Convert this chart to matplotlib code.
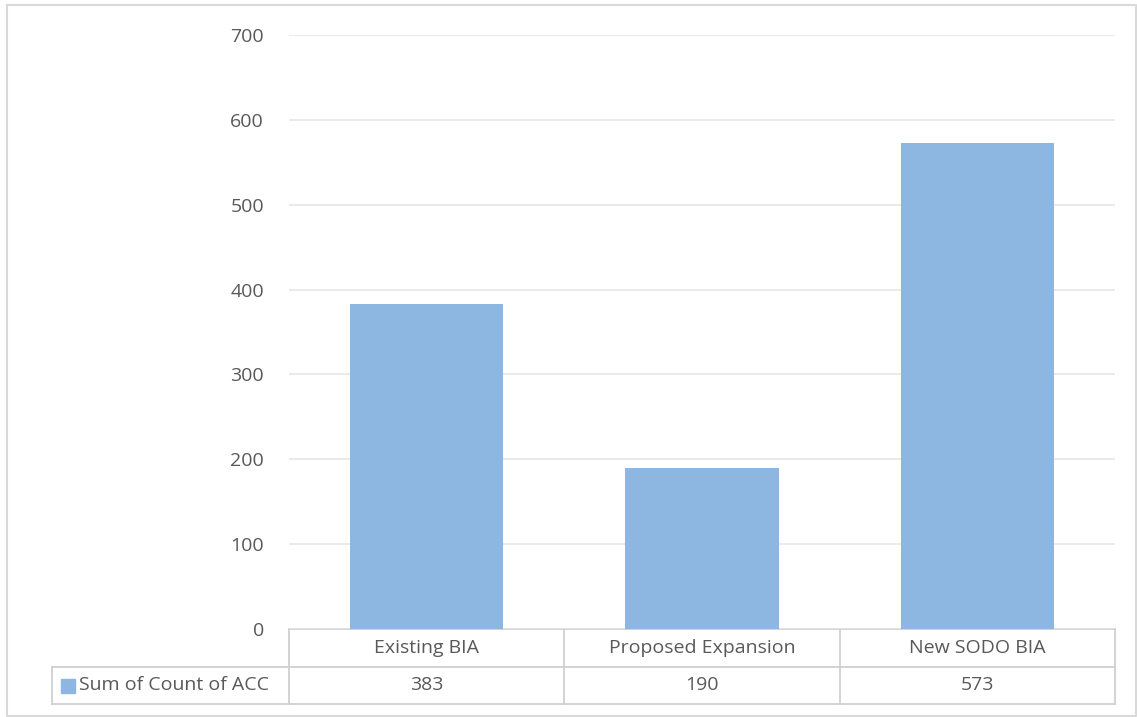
import matplotlib.pyplot as plt
from matplotlib.transforms import blended_transform_factory

categories = ["Existing BIA", "Proposed Expansion", "New SODO BIA"]
counts = [383, 190, 573]
series_name = "Sum of Count of ACC"
y_ticks = [0, 100, 200, 300, 400, 500, 600, 700]

W, H = 1137, 717
bar_color = "#8DB7E0"
text_color = "#595959"
grid_color = "#E6E6E6"
line_color = "#D0D0D0"
fs = 14

plt.rcParams["font.family"] = ["Open Sans", "DejaVu Sans"]

fig = plt.figure(figsize=(W / 100, H / 100), dpi=100)

# overlay in pixel coordinates for the frame and the data table
over = fig.add_axes([0, 0, 1, 1])
over.set_xlim(0, W)
over.set_ylim(H, 0)
over.axis("off")

# plot area
x0, x1, y_top, y_zero = 289, 1115, 35, 629
ax = fig.add_axes([x0 / W, 1 - y_zero / H, (x1 - x0) / W, (y_zero - y_top) / H])
ax.set_xlim(-0.5, len(categories) - 0.5)
ax.set_ylim(0, 700)
ax.bar(range(len(categories)), counts, width=0.556, color=bar_color, zorder=2)
ax.set_yticks(y_ticks)
ax.yaxis.grid(True, color=grid_color, linewidth=1.2, zorder=0)
ax.set_xticks([])
ax.tick_params(axis="y", length=0, pad=18, labelsize=fs, labelcolor=text_color)
for s in ax.spines.values():
    s.set_visible(False)
ax.patch.set_alpha(0)

# outer chart border
over.plot([7, 1136, 1136, 7, 7], [5, 5, 716, 716, 5], color="#D9D9D9", lw=1.5)

# data table
row1, row2, row3 = 629, 667, 704
lbl_left = 52
over.plot([x0, x1], [row1, row1], color=line_color, lw=1.3)
over.plot([lbl_left, x1], [row2, row2], color=line_color, lw=1.3)
over.plot([lbl_left, x1], [row3, row3], color=line_color, lw=1.3)
over.plot([lbl_left, lbl_left], [row2, row3], color=line_color, lw=1.3)
over.plot([x0, x0], [row1, row3], color=line_color, lw=1.3)
over.plot([x1, x1], [row1, row3], color=line_color, lw=1.3)
for i in range(1, len(categories)):
    xb = x0 + i * (x1 - x0) / len(categories)
    over.plot([xb, xb], [row1, row3], color=line_color, lw=1.3)

tr = blended_transform_factory(ax.transData, over.transData)
for i, (cat, val) in enumerate(zip(categories, counts)):
    ax.text(i, (row1 + row2) / 2, cat, transform=tr, ha="center", va="center",
            fontsize=fs, color=text_color)
    ax.text(i, (row2 + row3) / 2, str(val), transform=tr, ha="center", va="center",
            fontsize=fs, color=text_color)

# legend key and series name
over.add_patch(plt.Rectangle((61, 679), 14, 14, color=bar_color))
over.text(79, (row2 + row3) / 2, series_name, ha="left", va="center",
          fontsize=fs, color=text_color)

fig.savefig("out.png", dpi=100)
